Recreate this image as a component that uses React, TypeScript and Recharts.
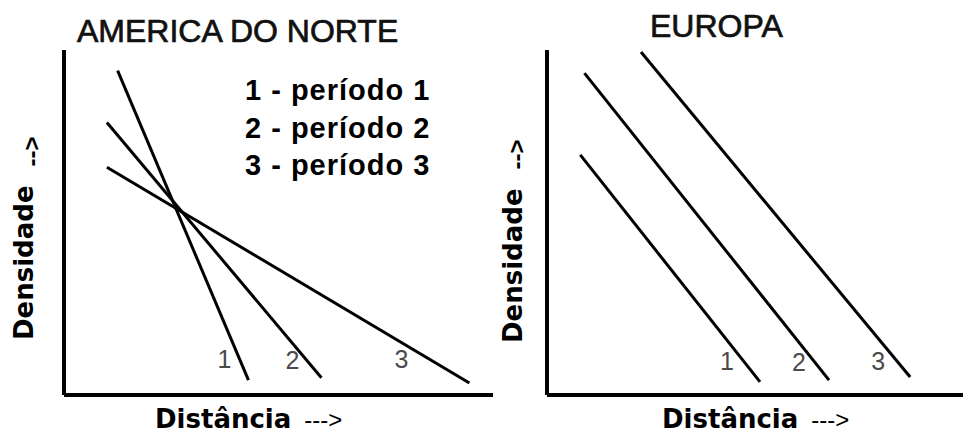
import { LineChart, Line, XAxis, YAxis, LabelList } from "recharts";

// period numbers and legend
const periods = ["1", "2", "3"];
const legendItems = ["1 - período 1", "2 - período 2", "3 - período 3"];

// distance (x) / density (y), start and end of each period line, 0-100 scale
const americaDistance = [
  [12.5, 43],
  [10, 60],
  [10, 94.5],
];
const americaDensity = [
  [94, 4.3],
  [79, 5],
  [66, 3.5],
];
const europaDistance = [
  [8, 51.2],
  [9, 67.8],
  [22.6, 87.3],
];
const europaDensity = [
  [69.6, 3.8],
  [93.3, 4.3],
  [99.4, 5.2],
];

const americaLabelOffset = [
  [-24, -12],
  [-29, -9],
  [-68, -15],
];
const europaLabelOffset = [
  [-33, -12],
  [-30, -9],
  [-32, -7],
];

const arial = "'Liberation Sans', Arial, sans-serif";
const dejavu = "'DejaVu Sans', Verdana, sans-serif";

function buildSeries(xs: number[][], ys: number[][]) {
  return xs.map((row, i) => row.map((x, j) => ({ x, y: ys[i][j] })));
}

function endLabel(offset: number[], text: string) {
  return (props: any) => {
    if (props.index !== 1) return <g />;
    return (
      <text
        x={props.x + offset[0]}
        y={props.y + offset[1]}
        textAnchor="middle"
        fontFamily={arial}
        fontSize={25}
        fill="#4a4a4a"
      >
        {text}
      </text>
    );
  };
}

interface PanelProps {
  series: { x: number; y: number }[][];
  offsets: number[][];
  width: number;
  left: number;
  marginLeft: number;
  marginRight: number;
}

function Panel({ series, offsets, width, left, marginLeft, marginRight }: PanelProps) {
  return (
    <div style={{ position: "absolute", left, top: 0 }}>
      <LineChart
        width={width}
        height={434}
        margin={{ top: 50, right: marginRight, bottom: 38, left: marginLeft - 1 }}
      >
        <XAxis
          type="number"
          dataKey="x"
          domain={[0, 100]}
          tick={false}
          tickLine={false}
          height={1}
          axisLine={{ stroke: "#000", strokeWidth: 4 }}
        />
        <YAxis
          type="number"
          dataKey="y"
          domain={[0, 100]}
          tick={false}
          tickLine={false}
          width={1}
          axisLine={{ stroke: "#000", strokeWidth: 4 }}
        />
        {series.map((d, i) => (
          <Line
            key={i}
            data={d}
            dataKey="y"
            stroke="#000"
            strokeWidth={3}
            dot={false}
            isAnimationActive={false}
          >
            <LabelList dataKey="y" content={endLabel(offsets[i], periods[i])} />
          </Line>
        ))}
      </LineChart>
    </div>
  );
}

function YLabel({ x, y, arrowDy }: { x: number; y: number; arrowDy: number }) {
  return (
    <text x={x} y={y} transform={`rotate(-90, ${x}, ${y})`} fontFamily={dejavu} fontWeight="bold" fontSize={26} fill="#000">
      Densidade
      <tspan dx={19} dy={arrowDy} fontFamily={arial} fontWeight="bold" fontSize={24}>
        {"-->"}
      </tspan>
    </text>
  );
}

function XLabel({ x, y }: { x: number; y: number }) {
  return (
    <text x={x} y={y} fontFamily={dejavu} fontWeight="bold" fontSize={26} fill="#000">
      Distância
      <tspan dx={13} fontFamily={arial} fontWeight="normal" fontSize={24}>
        {"--->"}
      </tspan>
    </text>
  );
}

export default function App() {
  const america = buildSeries(americaDistance, americaDensity);
  const europa = buildSeries(europaDistance, europaDensity);
  return (
    <div style={{ position: "absolute", left: 0, top: 0, width: 963, height: 434, background: "#fff" }}>
      <Panel series={america} offsets={americaLabelOffset} width={500} left={0} marginLeft={64} marginRight={7} />
      <Panel series={europa} offsets={europaLabelOffset} width={483} left={480} marginLeft={67} marginRight={0} />
      <svg width={963} height={434} style={{ position: "absolute", left: 0, top: 0, pointerEvents: "none" }}>
        <text x={77} y={42} fontFamily={arial} fontSize={32} fill="#111" stroke="#111" strokeWidth={0.7}>
          AMERICA DO NORTE
        </text>
        <text x={650} y={37} fontFamily={arial} fontSize={32} fill="#111" stroke="#111" strokeWidth={0.7}>
          EUROPA
        </text>
        {legendItems.map((t, i) => (
          <text key={t} x={245} y={100 + i * 37.5} fontFamily={arial} fontWeight="bold" fontSize={29} letterSpacing={1} fill="#000">
            {t}
          </text>
        ))}
        <YLabel x={33} y={340} arrowDy={7} />
        <YLabel x={522} y={343} arrowDy={3} />
        <XLabel x={155} y={428} />
        <XLabel x={662} y={428} />
      </svg>
    </div>
  );
}
